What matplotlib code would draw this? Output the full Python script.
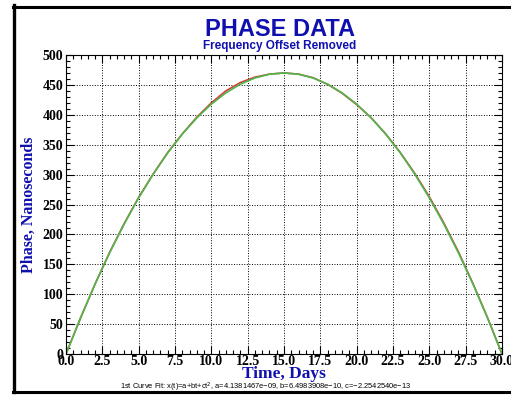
import matplotlib.pyplot as plt
from matplotlib.lines import Line2D
from matplotlib.ticker import MultipleLocator, FormatStrFormatter

# days, measured phase (red) and quadratic fit (green), nanoseconds
days = [0, 1, 2, 3, 4, 5, 6, 7, 8, 9, 10, 11, 12, 13, 14, 15,
        16, 17, 18, 19, 20, 21, 22, 23, 24, 25, 26, 27, 28, 29, 30]
phase = [0, 60, 117, 170, 218, 262, 301, 337, 368, 396, 420, 440, 454, 463, 468, 470,
         468, 462, 451, 436, 417, 395, 368, 337, 302, 263, 219, 171, 118, 61, 0]
fit = [0, 60.6, 117.0, 169.2, 217.2, 261.1, 300.8, 336.3, 367.6, 394.8, 417.8, 436.6, 451.2, 461.6, 467.9, 470.0,
       467.9, 461.6, 451.2, 436.6, 417.8, 394.8, 367.6, 336.3, 300.8, 261.1, 217.2, 169.2, 117.0, 60.6, 0]

blue = '#1010b0'
serif = ['Liberation Serif', 'DejaVu Serif']
sans = ['Liberation Sans', 'DejaVu Sans']

fig = plt.figure(figsize=(5.11, 3.96), dpi=100)
ax = fig.add_axes([66 / 511, 42 / 396, 436 / 511, 299 / 396])

ax.plot(days, phase, color='#d83a3a', lw=1.2)
ax.plot(days, fit, color='#4cb84c', lw=1.2)

ax.set_xlim(0, 30)
ax.set_ylim(0, 500)
ax.xaxis.set_major_locator(MultipleLocator(2.5))
ax.xaxis.set_minor_locator(MultipleLocator(0.5))
ax.yaxis.set_major_locator(MultipleLocator(50))
ax.yaxis.set_minor_locator(MultipleLocator(10))
ax.xaxis.set_major_formatter(FormatStrFormatter('%.1f'))
ax.tick_params(which='both', direction='in', top=True, right=True, width=0.8)
ax.tick_params(which='major', length=6, labelsize=10)
ax.tick_params(which='minor', length=3)
ax.tick_params(axis='x', pad=1)
ax.tick_params(axis='y', pad=2)
for lab in ax.get_xticklabels() + ax.get_yticklabels():
    lab.set_family(serif)
    lab.set_fontweight('bold')
ax.grid(True, which='major', color='black', linestyle=':', lw=0.7)
for s in ax.spines.values():
    s.set_linewidth(0.8)

ax.set_xlabel('Time, Days', family=serif, fontweight='bold', fontsize=12.5, color=blue, labelpad=-1.5)
ax.set_ylabel('Phase, Nanoseconds', family=serif, fontweight='bold', fontsize=11.5, color=blue, labelpad=4)

fig.text(280 / 511, 1 - 29 / 396, 'PHASE DATA', ha='center', va='center',
         family=sans, fontweight='bold', fontsize=17, color=blue)
fig.text(280 / 511, 1 - 46 / 396, 'Frequency Offset Removed', ha='center', va='center',
         family=sans, fontweight='bold', fontsize=8.5, color=blue)
fig.text(266 / 511, 1 - 387.5 / 396,
         '1st Curve Fit: x(t)=a+bt+ct$^2$, a=4.1381467e\u221209, b=6.4983908e\u221210, c=\u22122.2542540e\u221213',
         ha='center', va='center', family=sans, fontsize=5.4, color='black')

# black frame around the plot
fig.lines.append(Line2D([13.5 / 511, 13.5 / 511], [4 / 396, 1 - 5 / 396], transform=fig.transFigure, color='black', lw=2.4))
fig.lines.append(Line2D([12.5 / 511, 1], [1 - 6.5 / 396, 1 - 6.5 / 396], transform=fig.transFigure, color='black', lw=2.2))
fig.lines.append(Line2D([12.5 / 511, 1], [4.5 / 396, 4.5 / 396], transform=fig.transFigure, color='black', lw=2.2))

fig.savefig('out.png', dpi=100)
